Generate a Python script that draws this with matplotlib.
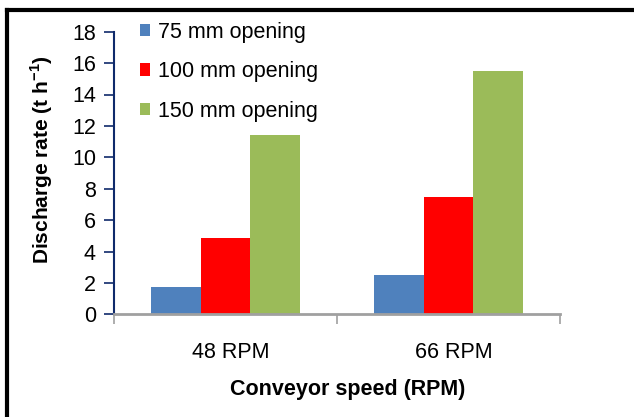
import matplotlib
matplotlib.use("Agg")
import matplotlib.pyplot as plt
import matplotlib.transforms as mtransforms
import numpy as np
from matplotlib.lines import Line2D

plt.rcParams['font.family'] = ['Liberation Sans', 'DejaVu Sans']

categories = ["48 RPM", "66 RPM"]
series_names = ["75 mm opening", "100 mm opening", "150 mm opening"]
v75 = [1.75, 2.5]
v100 = [4.85, 7.5]
v150 = [11.45, 15.5]
colors = ["#4F81BD", "#FF0000", "#9BBB59"]
yticks = [0, 2, 4, 6, 8, 10, 12, 14, 16, 18]

fig = plt.figure(figsize=(6.34, 4.17), dpi=100)
ax = fig.add_axes([114/634, 1-314.3/417, (560-114)/634, (314.3-31.7)/417])

x = np.arange(len(categories))
w = 1/4.5
for i, (vals, name, c) in enumerate(zip([v75, v100, v150], series_names, colors)):
    ax.bar(x + (i-1)*w, vals, width=w, color=c, label=name, linewidth=0)

ax.set_xlim(-0.5, len(categories)-0.5)
ax.set_ylim(0, 18)
ax.set_yticks(yticks)
ax.set_yticklabels([str(t) for t in yticks], fontsize=15.5)
ax.set_xticks(x)
ax.set_xticklabels(categories, fontsize=15.5)
ax.tick_params(axis='x', length=0, pad=20)
offset = mtransforms.ScaledTranslation(5/100, 0, fig.dpi_scale_trans)
for lab in ax.get_xticklabels():
    lab.set_transform(lab.get_transform() + offset)
# category boundary ticks
ax.set_xticks([-0.5, 0.5, 1.5], minor=True)
ax.tick_params(axis='x', which='minor', length=7, color='#A0A0A0', width=1.2)
ax.tick_params(axis='y', length=7, color='#0F2A6B', width=1.2, pad=6)

for s in ['top', 'right']:
    ax.spines[s].set_visible(False)
ax.spines['left'].set_color('#0F2A6B')
ax.spines['left'].set_linewidth(1.5)
ax.spines['bottom'].set_color('#A0A0A0')
ax.spines['bottom'].set_linewidth(2)

ax.set_ylabel("Discharge rate (t h$^{\\mathregular{-1}}$)", fontsize=15, fontweight='bold')
ax.yaxis.set_label_coords(-(114-42)/446, (314.3-160)/282.6)
ax.set_xlabel("Conveyor speed (RPM)", fontsize=15.5, fontweight='bold')
ax.xaxis.set_label_coords((348-114)/446, -(389-314.3)/282.6)
ax.xaxis.label.set_va('center')
ax.yaxis.label.set_va('center')

leg = ax.legend(loc='upper left', bbox_to_anchor=(17/446, 1.065), frameon=False,
                fontsize=15.5, handlelength=0.5, handleheight=0.5, handletextpad=0.35,
                labelspacing=0.85, borderaxespad=0)

# partial border (top and left)
fig.add_artist(Line2D([6.5/634, 1], [1-9.5/417, 1-9.5/417], transform=fig.transFigure,
                      color='black', linewidth=3))
fig.add_artist(Line2D([6.5/634, 6.5/634], [0, 1-9.5/417], transform=fig.transFigure,
                      color='black', linewidth=3))

fig.savefig("out.png", dpi=100)
